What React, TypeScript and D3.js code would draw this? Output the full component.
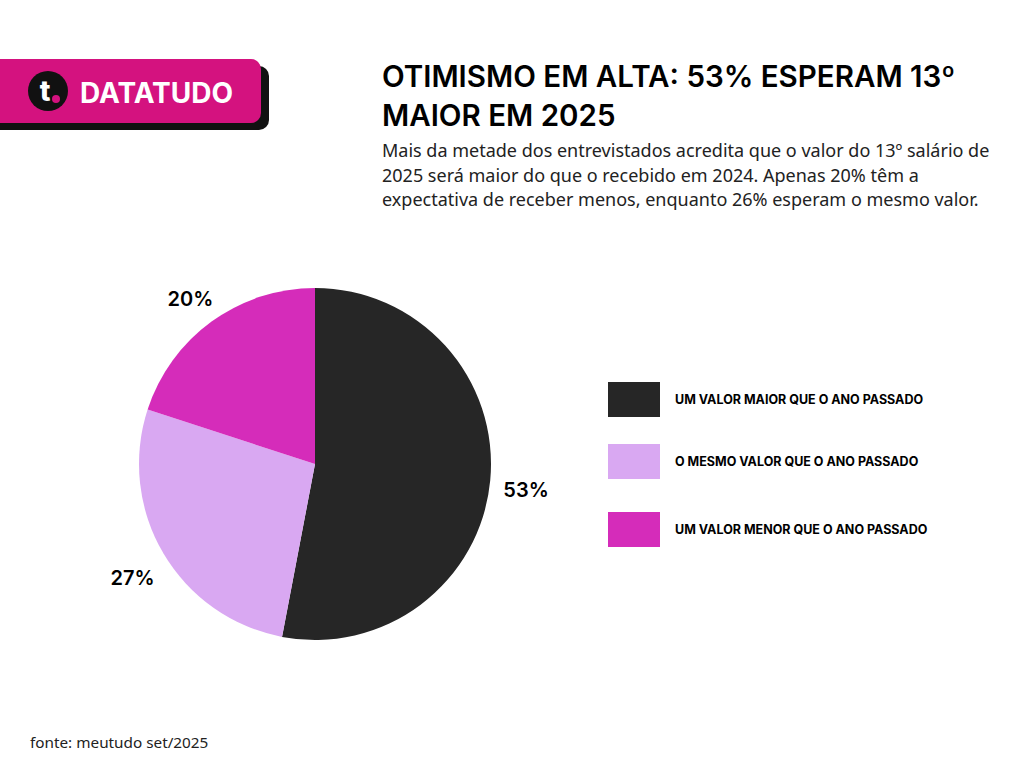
import React from "react";
import * as d3 from "d3";

const categories = [
  "UM VALOR MAIOR QUE O ANO PASSADO",
  "O MESMO VALOR QUE O ANO PASSADO",
  "UM VALOR MENOR QUE O ANO PASSADO",
];
const values = [53, 27, 20];
const sliceLabels = ["53%", "27%", "20%"];
const colors = ["#262626", "#d9a8f2", "#d52cba"];

const titleLines = ["OTIMISMO EM ALTA: 53% ESPERAM 13º", "MAIOR EM 2025"];
const subtitleLines = [
  "Mais da metade dos entrevistados acredita que o valor do 13º salário de",
  "2025 será maior do que o recebido em 2024. Apenas 20% têm a",
  "expectativa de receber menos, enquanto 26% esperam o mesmo valor.",
];
const source = "fonte: meutudo set/2025";

const width = 1024;
const height = 768;

const App: React.FC = () => {
  const cx = 315;
  const cy = 464;
  const r = 176;

  const pie = d3.pie<number>().sort(null).value((d) => d);
  const arcs = pie(values);
  const arcGen = d3.arc<d3.PieArcDatum<number>>().innerRadius(0).outerRadius(r);
  const labelArc = d3
    .arc<d3.PieArcDatum<number>>()
    .innerRadius(212)
    .outerRadius(212);

  const legendY = d3.scaleOrdinal<string, number>().domain(categories).range([382, 444, 512]);

  return (
    <svg
      width={width}
      height={height}
      style={{ position: "absolute", left: 0, top: 0, background: "#fff" }}
    >
      <rect width={width} height={height} fill="#fff" />

      {/* logo badge */}
      <rect x={-20} y={66} width={289} height={64} rx={10} fill="#111" />
      <rect x={-20} y={59} width={281} height={64} rx={10} fill="#d4127f" />
      <circle cx={48} cy={91} r={20} fill="#111" />
      <text
        x={45}
        y={101}
        fill="#fff"
        fontFamily="Inter"
        fontWeight={800}
        fontSize={28}
        textAnchor="middle"
      >
        t
      </text>
      <circle cx={56} cy={99} r={4} fill="#d4127f" />
      <text x={80} y={103} fill="#fff" fontFamily="Inter" fontWeight={700} fontSize={28}>
        DATATUDO
      </text>

      {/* title */}
      {titleLines.map((t, i) => (
        <text
          key={t}
          x={382}
          y={87 + i * 39}
          fill="#000"
          fontFamily="Inter"
          fontWeight={600}
          fontSize={29.5}
        >
          {t}
        </text>
      ))}
      {subtitleLines.map((t, i) => (
        <text
          key={t}
          x={382}
          y={157 + i * 24.5}
          fill="#222"
          fontFamily="Noto Sans"
          fontSize={18}
        >
          {t}
        </text>
      ))}

      {/* pie */}
      <g transform={`translate(${cx},${cy})`}>
        {arcs.map((a, i) => (
          <path key={i} d={arcGen(a) || ""} fill={colors[i]} />
        ))}
        {arcs.map((a, i) => {
          const [lx, ly] = labelArc.centroid(a);
          return (
            <text
              key={"l" + i}
              x={lx}
              y={ly}
              dy="0.65em"
              textAnchor="middle"
              fontFamily="Inter"
              fontWeight={600}
              fontSize={20}
              fill="#000"
            >
              {sliceLabels[i]}
            </text>
          );
        })}
      </g>

      {/* legend */}
      {categories.map((c, i) => (
        <g key={c} transform={`translate(608,${legendY(c)})`}>
          <rect width={52} height={35} fill={colors[i]} />
          <text
            x={67}
            y={17.5}
            dy="0.35em"
            fontFamily="Inter"
            fontWeight={700}
            fontSize={12.5}
            fill="#000"
          >
            {c}
          </text>
        </g>
      ))}

      <text x={30} y={748} fontFamily="Noto Sans" fontSize={15.3} fill="#222">
        {source}
      </text>
    </svg>
  );
};

export default App;
